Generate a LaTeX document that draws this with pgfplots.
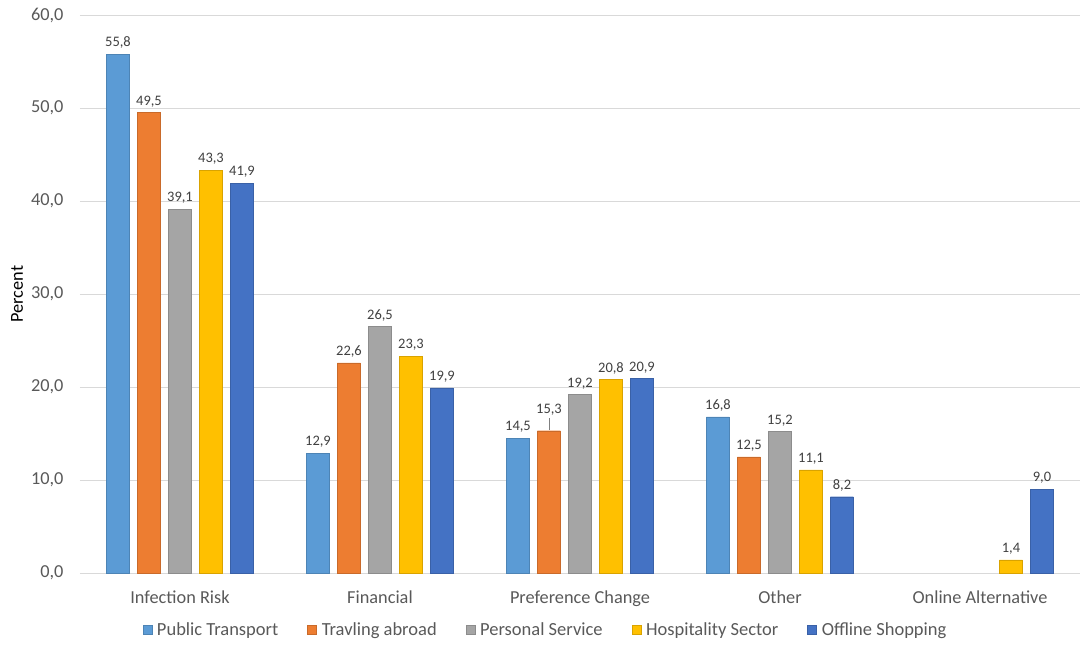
\documentclass[border=0pt]{standalone}
\usepackage{pgfplots}
\pgfplotsset{compat=1.18}
\usepackage{fontspec}
\setmainfont{Carlito}
\definecolor{cPT}{HTML}{5B9BD5}
\definecolor{cTA}{HTML}{ED7D31}
\definecolor{cPS}{HTML}{A5A5A5}
\definecolor{cHS}{HTML}{FFC000}
\definecolor{cOS}{HTML}{4472C4}
\definecolor{gridc}{HTML}{D9D9D9}
\definecolor{txt}{HTML}{595959}
\definecolor{lbl}{HTML}{404040}
\tikzset{commafmt/.style={/pgf/number format/fixed, /pgf/number format/fixed zerofill, /pgf/number format/precision=1, /pgf/number format/use comma, /pgf/number format/assume math mode=true}}
\begin{document}
\begin{tikzpicture}
\begin{axis}[
  scale only axis, width=1000pt, height=558pt,
  ybar=8pt, bar width=23pt,
  xmin=-0.5, xmax=4.5, ymin=0, ymax=60,
  xtick={0,1,2,3,4},
  xticklabels={Infection Risk, Financial, Preference Change, Other, Online Alternative},
  ytick={0,10,20,30,40,50,60},
  ymajorgrids, grid style={draw=gridc, line width=1pt},
  axis x line*=bottom, axis y line*=left,
  x axis line style={draw=gridc, line width=1pt, -},
  y axis line style={draw=none},
  major tick length=0pt,
  tick label style={font=\fontsize{18.3}{21}\selectfont, text=txt},
  yticklabel style={commafmt},
  yticklabel shift=13pt,
  xticklabel shift=14pt,
  ylabel={Percent},
  ylabel style={font=\fontsize{18.3}{21}\selectfont, text=black, at={(rel axis cs:0,0.5)}, anchor=center, yshift=63pt},
  nodes near coords,
  nodes near coords style={font=\fontsize{14.5}{17}\selectfont, text=lbl, commafmt, yshift=2pt},
  legend columns=5,
  legend style={at={(0.4655,-0.102)}, anchor=center, draw=none, fill=none,
     font=\fontsize{18.5}{21}\selectfont, text=txt,
     /tikz/every odd column/.append style={column sep=3pt},
     /tikz/every even column/.append style={column sep=27pt}},
  legend image code/.code={\fill[#1] (0pt,-4.5pt) rectangle (9pt,4.5pt);},
]
\addplot[fill=cPT, draw=cPT!85!black] coordinates {(0,55.8) (1,12.9) (2,14.5) (3,16.8)};
\addplot[fill=cTA, draw=cTA!85!black,
  coordinate style/.condition={x==2}{yshift=10pt}] coordinates {(0,49.5) (1,22.6) (2,15.3) (3,12.5)};
\addplot[fill=cPS, draw=cPS!85!black] coordinates {(0,39.1) (1,26.5) (2,19.2) (3,15.2)};
\addplot[fill=cHS, draw=cHS!85!black] coordinates {(0,43.3) (1,23.3) (2,20.8) (3,11.1) (4,1.4)};
\addplot[fill=cOS, draw=cOS!85!black] coordinates {(0,41.9) (1,19.9) (2,20.9) (3,8.2) (4,9.0)};
\legend{Public Transport, Travling abroad, Personal Service, Hospitality Sector, Offline Shopping}
\draw[gray, line width=0.8pt] (axis cs:2,15.3) ++(-31pt,0.5pt) -- ++(0pt,12pt);
\end{axis}
\pgfresetboundingbox
\path[use as bounding box] (current axis.south west) ++(-80pt,-73pt) rectangle ++(1084pt,646pt);
\end{tikzpicture}
\end{document}
